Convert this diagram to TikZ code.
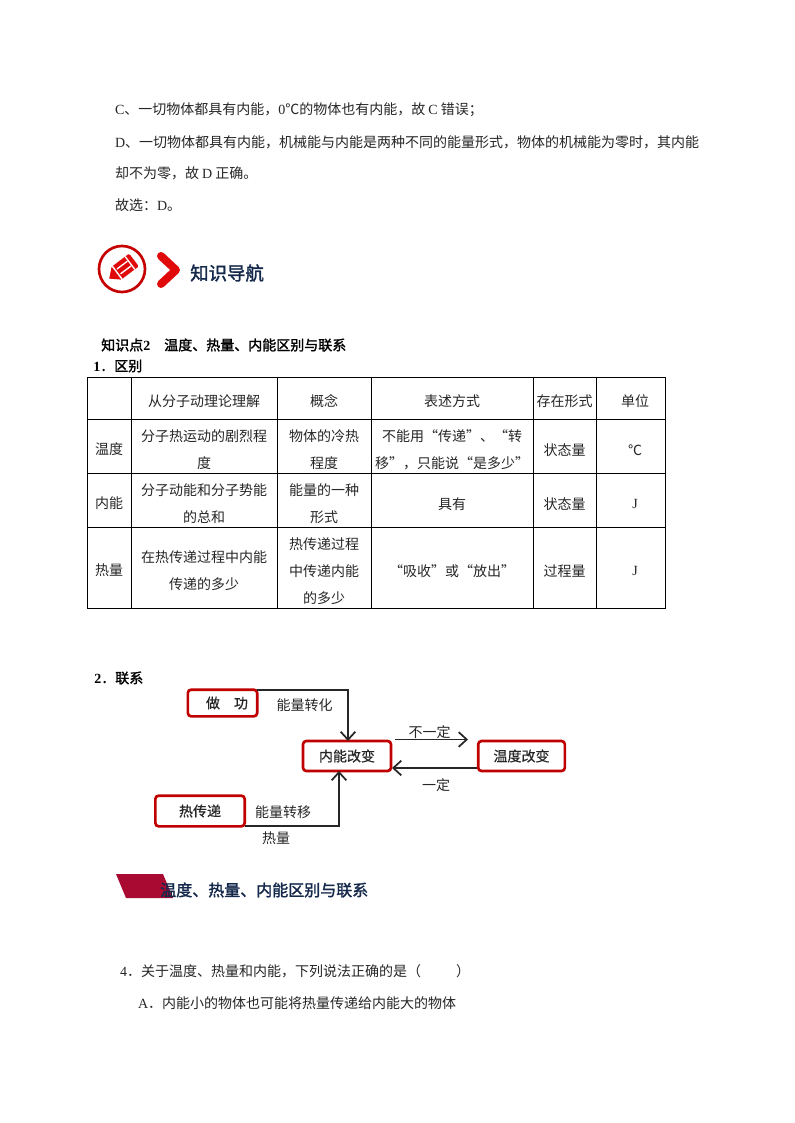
\documentclass[tikz,border=0pt]{standalone}
\usepackage{fontspec}
\setmainfont{Noto Sans CJK SC}
\newfontfamily\latinf{Liberation Serif}
\newfontfamily\boldcjk[FakeBold=1.6]{Noto Sans CJK SC}
\newfontfamily\semicjk[FakeBold=0.5]{Noto Sans CJK SC}
\usetikzlibrary{arrows.meta}
\definecolor{boxred}{HTML}{C00000}
\definecolor{barred}{HTML}{A80A32}
\definecolor{navy}{HTML}{14284B}
\definecolor{iconred}{HTML}{E00A0A}
\newcommand{\lat}[1]{{\latinf #1}}
\tikzset{
  txt/.style={inner sep=0pt,outer sep=0pt,font=\fontsize{10.5pt}{14pt}\selectfont,text=black!85},
  body/.style={txt,anchor=west},
  cell/.style={txt,align=center,anchor=center},
  bodyb/.style={inner sep=0pt,anchor=west,font=\fontsize{10.5pt}{14pt}\boldcjk,text=black},
  head/.style={inner sep=0pt,anchor=west,text=navy},
  rule/.style={draw=black,line width=0.75pt},
  redbox/.style={draw=boxred,line width=2pt,rounded corners=2.5pt,inner sep=0pt,outer sep=0pt,font=\fontsize{10.5pt}{14pt}\semicjk,text=black!85},
  conn/.style={draw=black!85,line width=1.4pt},
  tip/.style={-{Straight Barb[length=6pt,width=11pt,line width=1.3pt]}}
}
\begin{document}
\begin{tikzpicture}[x=0.75pt,y=-0.75pt]
\useasboundingbox (0,0) rectangle (794,1123);
\fill[white] (0,0) rectangle (794,1123);
% top text
\node[body] (l1) at (115,110) {\lat{C}、一切物体都具有内能，\lat{0}℃的物体也有内能，故 \lat{C} 错误；};
\node[body] (l2) at (115,142) {\lat{D}、一切物体都具有内能，机械能与内能是两种不同的能量形式，物体的机械能为零时，其内能};
\node[body] (l3) at (115,173) {却不为零，故 \lat{D} 正确。};
\node[body] (l4) at (115,205) {故选：\lat{D}。};
% icon
\draw[boxred!90!red,line width=2pt] (122,269) circle (23);
\begin{scope}[shift={(122,269)},rotate=37]
  \fill[iconred,rounded corners=1pt] (-7,-8) rectangle (15,8);
  \fill[iconred] (-7,-8) -- (-16,0) -- (-7,8) -- cycle;
  \draw[white,line width=1pt] (-6,-8) -- (-6,8);
  \draw[white,line width=1pt] (-4,-3) -- (9,-3) (-4,3) -- (9,3);
  \draw[white,line width=1pt] (10,-8) -- (10,8);
\end{scope}
\draw[iconred,line width=6pt,line cap=round,line join=round] (161,256) -- (176,270) -- (161,284);
\node[head,font=\fontsize{13.8pt}{16pt}\boldcjk] (nav) at (190,273) {知识导航};
% headings
\node[bodyb] (kp) at (101,345) {知识点\lat{\textbf{2}}\hspace{1em}温度、热量、内能区别与联系};
\node[bodyb] (s1) at (93,366) {\lat{\textbf{1}}．区别};
% table
\draw[rule] (87,377) rectangle (665,608);
\foreach \yy in {419,473,527}{\draw[rule] (87,\yy) -- (665,\yy);}
\foreach \xx in {131,277,371,533,596}{\draw[rule] (\xx,377) -- (\xx,608);}
\node[cell] (h1) at (204,401) {从分子动理论理解};
\node[cell] (h2) at (324,401) {概念};
\node[cell] (h3) at (452,401) {表述方式};
\node[cell] (h4) at (564.5,401) {存在形式};
\node[cell] (h5) at (635,401) {单位};
\node[cell] (r1) at (109,449) {温度};
\node[cell] (r2) at (109,503) {内能};
\node[cell] (r3) at (109,570) {热量};
\node[cell] (a1a) at (204,436) {分子热运动的剧烈程};
\node[cell] (a1b) at (204,463) {度};
\node[cell] (a2a) at (324,436) {物体的冷热};
\node[cell] (a2b) at (324,463) {程度};
\node[cell] (a3a) at (452,436) {不能用“传递”、“转};
\node[cell] (a3b) at (452,463) {移”，只能说“是多少”};
\node[cell] (a4) at (564.5,450) {状态量};
\node[cell] (a5) at (635,450) {℃};
\node[cell] (b1a) at (204,490) {分子动能和分子势能};
\node[cell] (b1b) at (204,517) {的总和};
\node[cell] (b2a) at (324,490) {能量的一种};
\node[cell] (b2b) at (324,517) {形式};
\node[cell] (b3) at (452,504) {具有};
\node[cell] (b4) at (564.5,504) {状态量};
\node[cell] (b5) at (635,504) {\lat{J}};
\node[cell] (c1a) at (204,557) {在热传递过程中内能};
\node[cell] (c1b) at (204,584) {传递的多少};
\node[cell] (c2a) at (324,544) {热传递过程};
\node[cell] (c2b) at (324,571) {中传递内能};
\node[cell] (c2c) at (324,598) {的多少};
\node[cell] (c3) at (452,571) {“吸收”或“放出”};
\node[cell] (c4) at (564.5,571) {过程量};
\node[cell] (c5) at (635,571) {\lat{J}};
% section 2
\node[bodyb] (s2) at (94,678) {\lat{\textbf{2}}．联系};
\node[redbox,minimum width=52pt,minimum height=20pt] (work) at (222.5,703) {\hspace*{6.75pt}做\hspace{1em}功};
\node[redbox,minimum width=66pt,minimum height=22.5pt] (inner) at (347,756) {内能改变};
\node[redbox,minimum width=65pt,minimum height=22.5pt] (temp) at (521.5,756) {温度改变};
\node[redbox,minimum width=67pt,minimum height=23pt] (heat) at (200,811) {热传递};
\coordinate (inTop) at (348,741);
\coordinate (inBot) at (339,771);
\coordinate (outA) at (395,739.5);
\coordinate (outB) at (468,739.5);
\coordinate (backA) at (477,768);
\coordinate (backB) at (392,768);
\draw[conn,tip] (work.north east) -| (inTop);
\draw[conn,tip] (heat.south east) -| (inBot);
\draw[conn,tip] (outA) -- (outB);
\draw[conn,tip] (backA) -- (backB);
\node[cell] (e1) at (304.5,705) {能量转化};
\node[cell] (e2) at (429.5,732) {不一定};
\node[cell] (e3) at (436,785) {一定};
\node[cell] (e4) at (283,812) {能量转移};
\node[cell] (e5) at (276,838) {热量};
% banner
\fill[barred] (116,874) -- (163,874) -- (173,898) -- (126,898) -- cycle;
\node[head,font=\fontsize{12pt}{16pt}\boldcjk] (ban) at (160,890) {温度、热量、内能区别与联系};
% question
\node[body] (q) at (120,971) {\lat{4}．关于温度、热量和内能，下列说法正确的是（\hspace{2.5em}）};
\node[body] (qa) at (138,1003) {\lat{A}．内能小的物体也可能将热量传递给内能大的物体};
\end{tikzpicture}
\end{document}
